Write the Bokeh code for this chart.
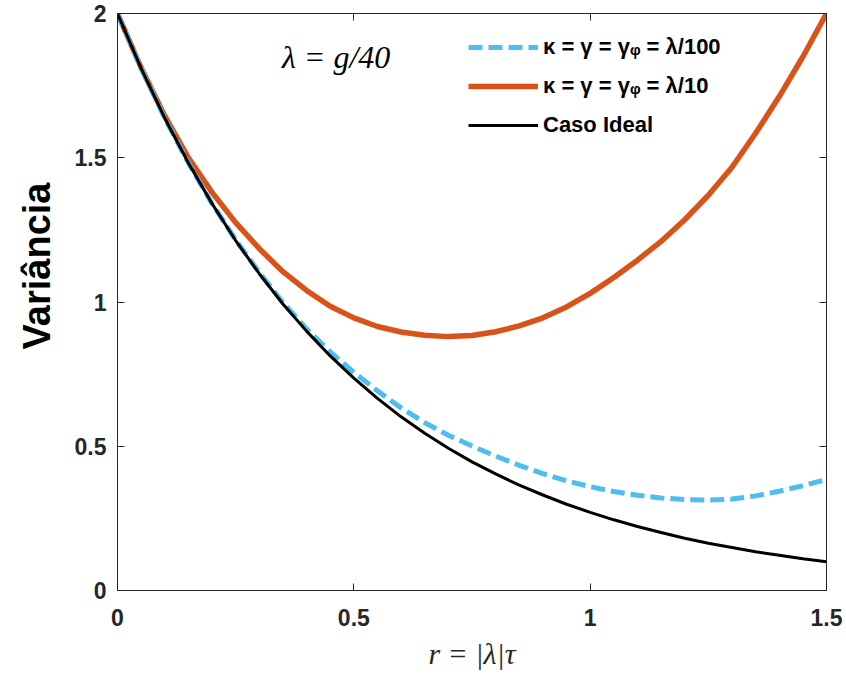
from bokeh.plotting import figure
from bokeh.models import (ColumnDataSource, Range1d, LinearAxis, Legend, LegendItem,
                          Label, Title, FixedTicker)
from bokeh.embed import file_html
from bokeh.resources import INLINE

# ---- data ----
r_vals = [0.00, 0.05, 0.10, 0.15, 0.20, 0.25, 0.30, 0.35, 0.40, 0.45,
          0.50, 0.55, 0.60, 0.65, 0.70, 0.75, 0.80, 0.85, 0.90, 0.95,
          1.00, 1.05, 1.10, 1.15, 1.20, 1.25, 1.30, 1.35, 1.40, 1.45, 1.50]
ideal = [2.000, 1.810, 1.637, 1.482, 1.341, 1.213, 1.098, 0.993, 0.899, 0.813,
         0.736, 0.666, 0.602, 0.545, 0.493, 0.446, 0.404, 0.365, 0.331, 0.299,
         0.271, 0.245, 0.222, 0.201, 0.181, 0.164, 0.149, 0.134, 0.122, 0.110, 0.100]
weak = [2.000, 1.810, 1.637, 1.482, 1.341, 1.215, 1.102, 0.998, 0.907, 0.827,
        0.756, 0.692, 0.633, 0.582, 0.538, 0.501, 0.466, 0.434, 0.405, 0.380,
        0.360, 0.343, 0.330, 0.321, 0.315, 0.313, 0.317, 0.328, 0.344, 0.363, 0.385]
strong = [2.000, 1.812, 1.645, 1.500, 1.380, 1.275, 1.185, 1.105, 1.040, 0.985,
          0.945, 0.915, 0.896, 0.885, 0.880, 0.884, 0.897, 0.917, 0.945, 0.983,
          1.030, 1.085, 1.145, 1.210, 1.285, 1.370, 1.467, 1.585, 1.712, 1.850, 2.000]
x_ticks = [0, 0.5, 1, 1.5]
x_tick_labels = ["0", "0.5", "1", "1.5"]
y_ticks = [0, 0.5, 1, 1.5, 2]
y_tick_labels = ["0", "0.5", "1", "1.5", "2"]
series_labels = ["κ = γ = γᵩ = λ/100", "κ = γ = γᵩ = λ/10", "Caso Ideal"]

BLUE = "#4DBEEE"
RED = "#D95319"
AXC = "#262626"
SANS = "Liberation Sans"
SERIF = "Liberation Serif"

src = ColumnDataSource(dict(r=r_vals, ideal=ideal, weak=weak, strong=strong))

p = figure(width=846, height=677, output_backend="svg", toolbar_location=None,
           x_range=Range1d(0, 1.5), y_range=Range1d(0, 2),
           min_border_left=117, min_border_right=20, min_border_top=13,
           min_border_bottom=87, x_axis_location=None, y_axis_location=None)
p.grid.visible = False
p.outline_line_color = AXC
p.outline_line_width = 1
p.background_fill_color = "white"
p.border_fill_color = "white"

def style_axis(ax, ticks, labels, show_labels=True):
    ax.ticker = FixedTicker(ticks=ticks)
    ax.minor_tick_line_color = None
    ax.major_tick_in = 7
    ax.major_tick_out = 0
    ax.axis_line_color = AXC
    ax.major_tick_line_color = AXC
    ax.major_label_text_font = SANS
    ax.major_label_text_font_style = "bold"
    ax.major_label_text_font_size = "23px" if show_labels else "0px"
    ax.major_label_text_color = "#262626" if show_labels else None
    ax.major_label_overrides = {t: l for t, l in zip(ticks, labels)}

xb = LinearAxis(axis_label="r = |λ|τ", axis_label_text_font=SERIF,
                axis_label_text_font_style="italic", axis_label_text_font_size="30px",
                axis_label_text_color="#262626", axis_label_standoff=8,
                major_label_standoff=18)
style_axis(xb, x_ticks, x_tick_labels)
p.add_layout(xb, "below")

yl = LinearAxis(major_label_standoff=11)
style_axis(yl, y_ticks, y_tick_labels)
p.add_layout(yl, "left")

xt = LinearAxis(major_label_standoff=0)
style_axis(xt, x_ticks, x_tick_labels, show_labels=False)
p.add_layout(xt, "above")

yr = LinearAxis(major_label_standoff=0)
style_axis(yr, y_ticks, y_tick_labels, show_labels=False)
p.add_layout(yr, "right")

# y-axis title as a left-side Title, shifted towards the top like the reference
ytitle = Title(text="Variância", align="right", offset=169, standoff=24,
               vertical_align="top", text_font=SANS, text_font_style="bold",
               text_font_size="38px", text_color="black")
p.add_layout(ytitle, "left")

r_red = p.line("r", "strong", source=src, line_color=RED, line_width=5.5)
r_blue = p.line("r", "weak", source=src, line_color=BLUE, line_width=5,
                line_dash="14 6")
r_black = p.line("r", "ideal", source=src, line_color="black", line_width=3)

legend = Legend(items=[LegendItem(label=series_labels[0], renderers=[r_blue]),
                       LegendItem(label=series_labels[1], renderers=[r_red]),
                       LegendItem(label=series_labels[2], renderers=[r_black])],
                location=(351, 452), padding=0, margin=0, glyph_width=70,
                glyph_height=26, label_height=26, spacing=13, label_standoff=5,
                label_text_font=SANS, label_text_font_style="bold",
                label_text_font_size="22px", label_text_color="black",
                border_line_color=None, background_fill_alpha=0)
p.add_layout(legend)

p.add_layout(Label(x=0.348, y=1.85, text="λ = g/40", text_font=SERIF,
                   text_font_style="italic", text_font_size="32px",
                   text_color="black", text_baseline="alphabetic"))

open("out.html", "w").write(file_html(p, INLINE))
